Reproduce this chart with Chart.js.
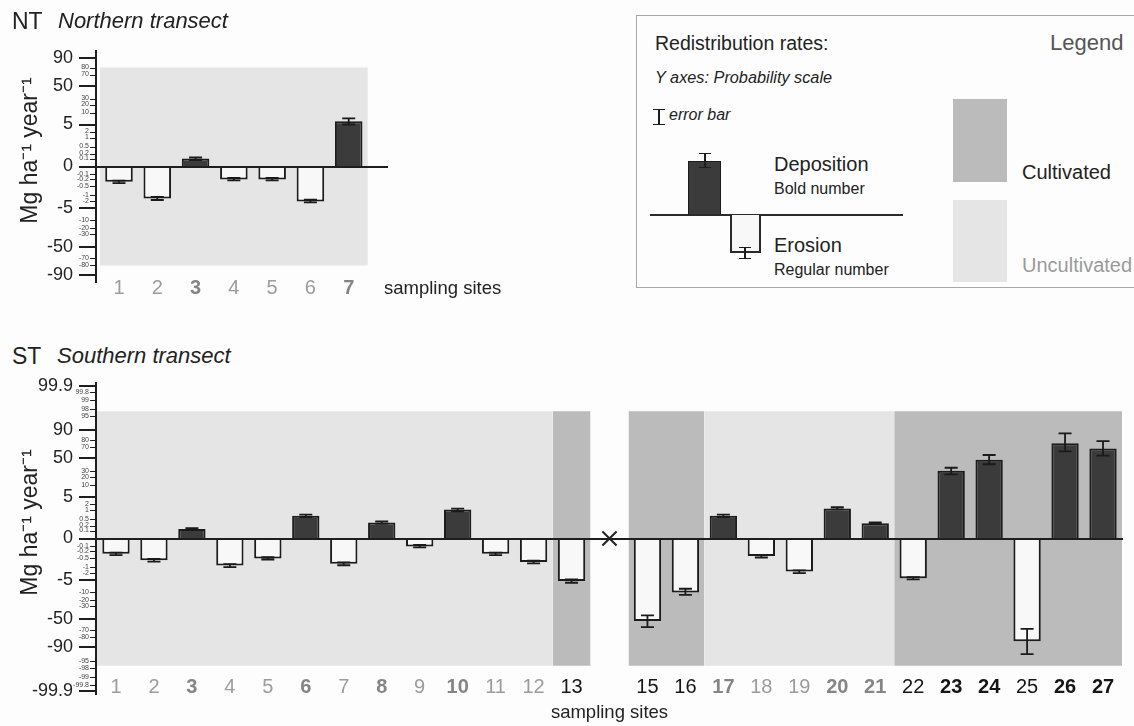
<!DOCTYPE html>
<html>
<head>
<meta charset="utf-8">
<script src="https://cdn.jsdelivr.net/npm/chart.js@4.4.1/dist/chart.umd.min.js"></script>
<style>
  body { margin: 0; width: 1134px; height: 726px; position: relative; overflow: hidden;
         background: #fdfdfd; color: #222; font-family: "Liberation Sans", Arial, sans-serif; }
  .abs { position: absolute; white-space: nowrap; line-height: 1; }
  .it { font-style: italic; }
  #ntCanvas { position: absolute; left: 0; top: 0; }
  #stCanvas { position: absolute; left: 0; top: 370px; }
  #legendBox { position: absolute; left: 636px; top: 15px; width: 520px; height: 271px; border: 1px solid #a8a8a8; }
  .ebar { position: absolute; width: 12px; box-sizing: border-box; border-top: 1.6px solid #1c1c1c; border-bottom: 1.6px solid #1c1c1c; }
  .ebar::after { content: ''; position: absolute; left: 5px; top: 0; bottom: 0; width: 1.6px; background: #1c1c1c; }
</style>
</head>
<body>
<canvas id="ntCanvas" width="400" height="305"></canvas>
<canvas id="stCanvas" width="1134" height="356"></canvas>

<div class="abs" style="left:12px;top:10px;font-size:23px">NT</div>
<div class="abs it" style="left:58px;top:10px;font-size:22px">Northern transect</div>
<div class="abs" style="left:384px;top:279px;font-size:18.5px">sampling sites</div>
<div class="abs" style="left:12px;top:345px;font-size:23px">ST</div>
<div class="abs it" style="left:57px;top:345px;font-size:22px">Southern transect</div>

<div id="legendBox"></div>
<div class="abs" style="left:655px;top:34px;font-size:19.5px">Redistribution rates:</div>
<div class="abs" style="left:1050px;top:32px;font-size:22px;color:#555">Legend</div>
<div class="abs it" style="left:655px;top:69px;font-size:16.3px">Y axes: Probability scale</div>
<div class="ebar" style="left:653px;top:109px;height:16px"></div>
<div class="abs it" style="left:669px;top:107px;font-size:16px">error bar</div>
<div class="abs" style="left:688px;top:161px;width:33px;height:54px;background:#3b3b3b;box-sizing:border-box;border:1.5px solid #1c1c1c;border-bottom:none"></div>
<div class="ebar" style="left:699px;top:153px;height:15px"></div>
<div class="abs" style="left:650px;top:214px;width:253px;height:2px;background:#2a2a2a"></div>
<div class="abs" style="left:730px;top:215px;width:31px;height:38px;background:#f8f8f8;box-sizing:border-box;border:2px solid #2a2a2a;border-top:none"></div>
<div class="ebar" style="left:739px;top:247px;height:12px"></div>
<div class="abs" style="left:774px;top:154px;font-size:20px">Deposition</div>
<div class="abs" style="left:774px;top:181px;font-size:16px">Bold number</div>
<div class="abs" style="left:774px;top:235px;font-size:20px">Erosion</div>
<div class="abs" style="left:774px;top:262px;font-size:16px">Regular number</div>
<div class="abs" style="left:953px;top:99px;width:54px;height:83px;background:#bbbbbb"></div>
<div class="abs" style="left:1022px;top:162px;font-size:20px">Cultivated</div>
<div class="abs" style="left:953px;top:200px;width:54px;height:82px;background:#e5e5e5"></div>
<div class="abs" style="left:1022px;top:255px;font-size:20px;color:#9a9a9a">Uncultivated</div>

<script>
// ---- data: Northern transect (NT) ----
var ntSites = [1, 2, 3, 4, 5, 6, 7];
var ntRates = [-0.3, -1.5, 0.1, -0.2, -0.2, -2.0, 6.4];
var ntErrLow = [-0.36, -1.75, 0.08, -0.24, -0.24, -2.4, 5.0];
var ntErrHigh = [-0.25, -1.25, 0.12, -0.17, -0.17, -1.7, 7.6];
var ntLand = ['U', 'U', 'U', 'U', 'U', 'U', 'U'];
var ntMajorTicks = [90, 50, 5, 0, -5, -50, -90];
var ntMinorTicks = [80, 70, 30, 20, 10, 2, 1, 0.5, 0.2, 0.1, -0.1, -0.2, -0.5, -1, -2, -10, -20, -30, -70, -80];

// ---- data: Southern transect (ST), site 14 has no sample ----
var stSites = [1, 2, 3, 4, 5, 6, 7, 8, 9, 10, 11, 12, 13, 14, 15, 16, 17, 18, 19, 20, 21, 22, 23, 24, 25, 26, 27];
var stRates = [-0.3, -0.6, 0.13, -0.9, -0.5, 0.65, -0.8, 0.33, -0.1, 1.0, -0.3, -0.7, -5.3, null,
               -53, -10.3, 0.65, -0.4, -1.7, 1.2, 0.3, -4.1, 30, 47, -84, 75, 67];
var stErrLow = [-0.36, -0.68, 0.11, -0.98, -0.56, 0.58, -0.88, 0.28, -0.12, 0.9, -0.36, -0.78, -6.0, null,
                -64.5, -13.3, 0.58, -0.46, -1.95, 1.05, 0.26, -4.6, 24, 40, -92.5, 61.6, 54];
var stErrHigh = [-0.25, -0.53, 0.15, -0.82, -0.45, 0.72, -0.72, 0.38, -0.08, 1.15, -0.25, -0.62, -4.6, null,
                 -44, -8.5, 0.72, -0.35, -1.5, 1.4, 0.34, -3.6, 34.6, 55, -67.5, 86.4, 78];
var stLand = ['U', 'U', 'U', 'U', 'U', 'U', 'U', 'U', 'U', 'U', 'U', 'U', 'C', null,
              'C', 'C', 'U', 'U', 'U', 'U', 'U', 'C', 'C', 'C', 'C', 'C', 'C'];
var stGapSites = [14];
var stMajorTicks = [99.9, 90, 50, 5, 0, -5, -50, -90, -99.9];
var stMinorTicks = [99.8, 99, 98, 95, 80, 70, 30, 20, 10, 2, 1, 0.5, 0.2, 0.1,
                    -0.1, -0.2, -0.5, -1, -2, -10, -20, -30, -70, -80, -95, -98, -99, -99.8];

// probability scale: |value| -> relative distance from the zero line
var probValues = [0, 0.1, 0.2, 0.5, 1, 2, 5, 10, 20, 30, 50, 70, 80, 90, 95, 98, 99, 99.8, 99.9, 100];
var probSpacing = [0, 8, 13, 20, 29, 35, 42, 54, 62, 68, 81, 92, 99, 109, 123, 130, 139, 147, 153, 157];

var FONT = '"Liberation Sans", Arial, sans-serif';
var INK = '#1e1e1e';
var SHADE_C = '#bbbbbb';
var SHADE_U = '#e5e5e5';

Chart.defaults.font.family = FONT;
Chart.defaults.color = '#222';

function interp(xs, ys, x) {
    for (var i = 1; i < xs.length; i++) {
        if (x <= xs[i]) {
            return ys[i - 1] + (ys[i] - ys[i - 1]) * (x - xs[i - 1]) / (xs[i] - xs[i - 1]);
        }
    }
    return ys[ys.length - 1];
}
function probT(v) {
    return Math.sign(v) * interp(probValues, probSpacing, Math.abs(v));
}
function probInv(t) {
    return Math.sign(t) * interp(probSpacing, probValues, Math.abs(t));
}

class ProbabilityScale extends Chart.LinearScale {
    static id = 'probability';
    static defaults = {};
    getPixelForValue(value) {
        if (value === null || value === undefined) return NaN;
        var t0 = probT(this.min), t1 = probT(this.max);
        return this.getPixelForDecimal((probT(value) - t0) / (t1 - t0));
    }
    getValueForPixel(pixel) {
        var t0 = probT(this.min), t1 = probT(this.max);
        return probInv(t0 + this.getDecimalForPixel(pixel) * (t1 - t0));
    }
}
Chart.register(ProbabilityScale);

// error bars drawn on top of the bars, through the y scale
var errorBars = {
    id: 'errorBars',
    afterDatasetsDraw(chart, args, opts) {
        var meta = chart.getDatasetMeta(opts.datasetIndex);
        var y = chart.scales.y;
        var ctx = chart.ctx;
        ctx.save();
        ctx.strokeStyle = '#1a1a1a';
        ctx.lineWidth = 1.8;
        meta.data.forEach(function (bar, i) {
            if (opts.low[i] == null) return;
            var y1 = y.getPixelForValue(opts.low[i]);
            var y2 = y.getPixelForValue(opts.high[i]);
            var w = 6.5;
            ctx.beginPath();
            ctx.moveTo(bar.x, y1); ctx.lineTo(bar.x, y2);
            ctx.moveTo(bar.x - w, y1); ctx.lineTo(bar.x + w, y1);
            ctx.moveTo(bar.x - w, y2); ctx.lineTo(bar.x + w, y2);
            ctx.stroke();
        });
        ctx.restore();
    }
};

// probability axis line with long (major) and short (minor) tick marks, at the scales' tick pixels
var probAxis = {
    id: 'probAxis',
    afterDraw(chart) {
        var ctx = chart.ctx;
        var x = chart.chartArea.left - 1;
        var major = chart.scales.y, minor = chart.scales.y2;
        ctx.save();
        ctx.strokeStyle = INK;
        ctx.lineWidth = 2;
        ctx.beginPath();
        ctx.moveTo(x, major.top);
        ctx.lineTo(x, major.bottom);
        major.ticks.forEach(function (t, i) {
            var py = Math.round(major.getPixelForTick(i));
            ctx.moveTo(x - 17, py);
            ctx.lineTo(x, py);
        });
        ctx.stroke();
        ctx.lineWidth = 1;
        ctx.beginPath();
        minor.ticks.forEach(function (t, i) {
            var py = Math.round(minor.getPixelForTick(i)) + 0.5;
            ctx.moveTo(x - 6, py);
            ctx.lineTo(x, py);
        });
        ctx.stroke();
        ctx.restore();
    }
};

function widest(labels, font) {
    var c = document.createElement('canvas').getContext('2d');
    c.font = font;
    return Math.max.apply(null, labels.map(function (l) { return c.measureText(String(l)).width; }));
}

function shadingDatasets(sites, land, limit) {
    var runs = [];
    sites.forEach(function (s, i) {
        if (!land[i]) return;
        var last = runs[runs.length - 1];
        if (last && last.land === land[i] && last.to === s - 0.5) last.to = s + 0.5;
        else runs.push({ land: land[i], from: s - 0.5, to: s + 0.5 });
    });
    return runs.map(function (r) {
        return {
            type: 'line', order: 10,
            data: [{ x: r.from, y: limit }, { x: r.to, y: limit }],
            fill: { value: -limit },
            backgroundColor: r.land === 'C' ? SHADE_C : SHADE_U,
            borderWidth: 0, pointRadius: 0
        };
    });
}

function siteIndex(o, c) {
    return c && c.tick ? o.sites.indexOf(c.tick.value) : -1;
}

function makeTransect(canvas, o) {
    var shading = shadingDatasets(o.sites, o.land, o.shadeLimit);
    var datasets = shading.concat([{
        type: 'bar', order: 2,
        data: o.sites.map(function (s, i) { return { x: s, y: o.rates[i] }; }),
        grouped: false,
        barPercentage: 0.72,
        categoryPercentage: 1,
        backgroundColor: function (c) { return c.raw && c.raw.y > 0 ? '#3b3b3b' : '#f8f8f8'; },
        borderColor: '#1c1c1c',
        borderWidth: 2,
        borderSkipped: 'start'
    }]);
    if (o.gaps) {
        datasets.push({
            type: 'scatter', order: 1,
            data: o.gaps.map(function (g) { return { x: g, y: 0 }; }),
            pointStyle: 'crossRot', pointRadius: 10,
            borderColor: '#222', borderWidth: 2
        });
    }
    var minorFont = 7;
    var minorW = widest(o.minorTicks, minorFont + 'px ' + FONT);

    return new Chart(canvas, {
        type: 'bar',
        data: { datasets: datasets },
        plugins: [errorBars, probAxis],
        options: {
            responsive: false,
            animation: false,
            events: [],
            layout: { padding: { top: o.padTop, right: o.padRight, left: 0, bottom: 0 } },
            plugins: {
                legend: { display: false },
                tooltip: { enabled: false },
                errorBars: { datasetIndex: shading.length, low: o.errLow, high: o.errHigh }
            },
            scales: {
                x: {
                    type: 'linear', min: o.xMin, max: o.xMax, offset: false,
                    afterBuildTicks: function (s) { s.ticks = o.sites.map(function (v) { return { value: v }; }); },
                    afterFit: function (s) { s.height = o.xAxisHeight; s.paddingLeft = 0; s.paddingRight = 0; },
                    grid: { display: false, drawTicks: false, offset: false },
                    border: { display: false },
                    ticks: {
                        autoSkip: false, maxRotation: 0, mirror: true, padding: o.xLabelPad,
                        callback: function (v) {
                            var i = o.sites.indexOf(v);
                            return i < 0 || o.rates[i] == null ? '' : String(v);
                        },
                        color: function (c) {
                            var i = siteIndex(o, c);
                            if (i < 0) return '#222';
                            return o.land[i] === 'C' ? '#161616' : (o.rates[i] > 0 ? '#858585' : '#9c9c9c');
                        },
                        font: function (c) {
                            var i = siteIndex(o, c);
                            return { size: 20, weight: i >= 0 && o.rates[i] > 0 ? 'bold' : 'normal' };
                        }
                    },
                    title: {
                        display: !!o.xTitle, text: o.xTitle || '',
                        font: { size: 18.5 }, color: '#222', padding: { top: 0, bottom: 2 }
                    }
                },
                // zero baseline: an axis line placed at y = 0
                xZero: {
                    type: 'linear', axis: 'x', position: { y: 0 }, min: o.xMin, max: o.xMax, offset: false,
                    afterFit: function (s) { s.height = 0; s.paddingLeft = 0; s.paddingRight = 0; },
                    ticks: { display: false },
                    grid: { display: false, drawTicks: false, offset: false },
                    border: { display: true, color: INK, width: 2, z: 2 }
                },
                y: {
                    type: 'probability', position: 'left', weight: 1,
                    min: -o.yLimit, max: o.yLimit, bounds: 'data',
                    afterBuildTicks: function (s) { s.ticks = o.majorTicks.map(function (v) { return { value: v }; }); },
                    afterFit: function (s) { s.width = 97; s.paddingTop = 0; s.paddingBottom = 0; },
                    grid: { display: false, drawTicks: false, drawOnChartArea: false },
                    border: { display: false },
                    ticks: {
                        autoSkip: false, padding: 24, color: '#222', font: { size: 18 },
                        callback: function (v) { return String(v); }
                    },
                    title: {
                        display: true, text: '     Mg ha\u207B\u00B9 year\u207B\u00B9',
                        font: { size: 23 }, color: '#222',
                        padding: { top: 17, bottom: 0 }
                    }
                },
                y2: {
                    type: 'probability', position: 'left', weight: 0,
                    min: -o.yLimit, max: o.yLimit, bounds: 'data',
                    afterBuildTicks: function (s) { s.ticks = o.minorTicks.map(function (v) { return { value: v }; }); },
                    afterFit: function (s) { s.width = 0; s.paddingTop = 0; s.paddingBottom = 0; },
                    grid: { display: false, drawTicks: false, drawOnChartArea: false },
                    border: { display: false },
                    ticks: {
                        autoSkip: false, mirror: true, crossAlign: 'far', padding: -(minorW + 8),
                        color: '#444', font: { size: minorFont },
                        callback: function (v) { return String(v); }
                    }
                }
            }
        }
    });
}

makeTransect(document.getElementById('ntCanvas'), {
    sites: ntSites, rates: ntRates, errLow: ntErrLow, errHigh: ntErrHigh, land: ntLand,
    majorTicks: ntMajorTicks, minorTicks: ntMinorTicks,
    yLimit: 92.7, shadeLimit: 80,
    xMin: 0.4256, xMax: 8.0,
    padTop: 50, padRight: 13, xAxisHeight: 22, xLabelPad: -17
});

makeTransect(document.getElementById('stCanvas'), {
    sites: stSites, rates: stRates, errLow: stErrLow, errHigh: stErrHigh, land: stLand,
    gaps: stGapSites,
    majorTicks: stMajorTicks, minorTicks: stMinorTicks,
    yLimit: 100, shadeLimit: 97,
    xMin: 0.5, xMax: 27.5,
    padTop: 10, padRight: 0, xAxisHeight: 31, xLabelPad: -4,
    xTitle: 'sampling sites'
});
</script>
</body>
</html>
